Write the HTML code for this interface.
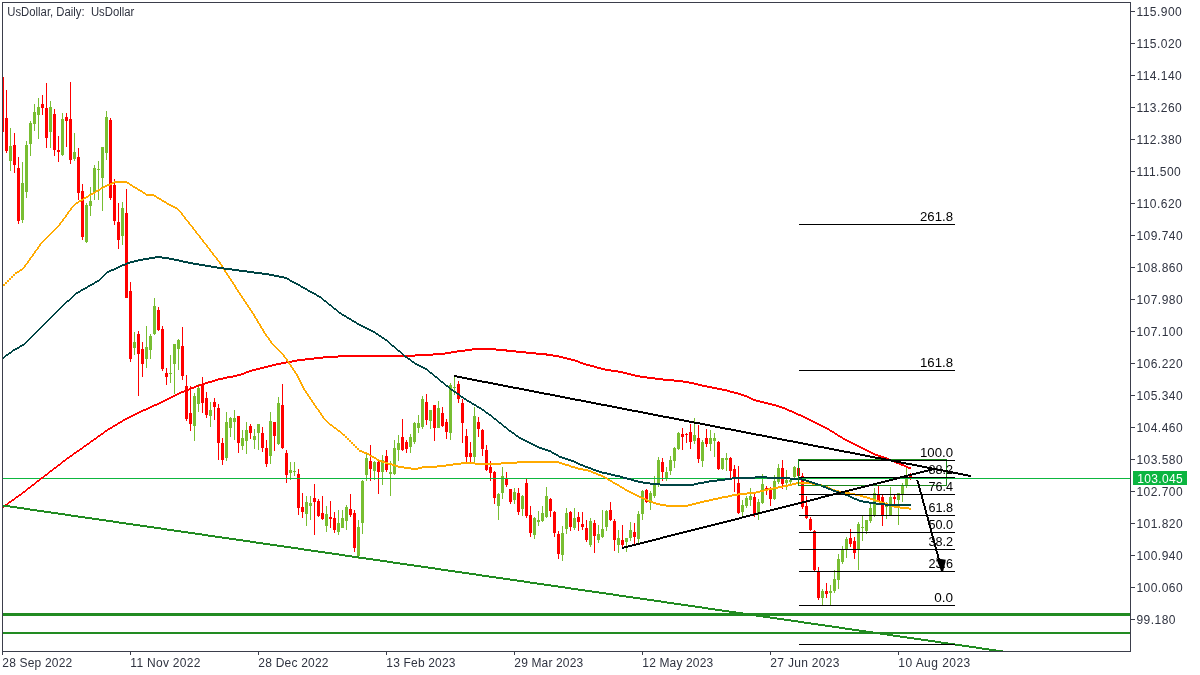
<!DOCTYPE html>
<html lang="en"><head><meta charset="utf-8"><title>UsDollar, Daily</title>
<style>html,body{margin:0;padding:0;background:#fff;}body{width:1200px;height:675px;overflow:hidden;}svg{display:block;will-change:transform;}text{font-family:"Liberation Sans",sans-serif;}</style>
</head><body>
<svg width="1200" height="675" viewBox="0 0 1200 675">
<rect x="0" y="0" width="1200" height="675" fill="#ffffff"/>
<defs><clipPath id="plot"><rect x="3" y="3" width="1127" height="648"/></clipPath></defs>
<g clip-path="url(#plot)" shape-rendering="crispEdges">
<rect x="2" y="77" width="1" height="55" fill="#ff0000"/>
<rect x="1" y="77" width="3" height="55" fill="#ff0000"/>
<rect x="6" y="90" width="1" height="63" fill="#ff0000"/>
<rect x="5" y="118" width="3" height="33" fill="#ff0000"/>
<rect x="10" y="128" width="1" height="43" fill="#78be32"/>
<rect x="9" y="146" width="3" height="15" fill="#78be32"/>
<rect x="14" y="133" width="1" height="40" fill="#ff0000"/>
<rect x="13" y="145" width="3" height="20" fill="#ff0000"/>
<rect x="18" y="157" width="1" height="67" fill="#ff0000"/>
<rect x="17" y="168" width="3" height="53" fill="#ff0000"/>
<rect x="22" y="162" width="1" height="61" fill="#78be32"/>
<rect x="21" y="183" width="3" height="37" fill="#78be32"/>
<rect x="26" y="141" width="1" height="57" fill="#78be32"/>
<rect x="25" y="145" width="3" height="47" fill="#78be32"/>
<rect x="30" y="121" width="1" height="35" fill="#78be32"/>
<rect x="29" y="123" width="3" height="21" fill="#78be32"/>
<rect x="34" y="104" width="1" height="27" fill="#78be32"/>
<rect x="33" y="112" width="3" height="12" fill="#78be32"/>
<rect x="38" y="98" width="1" height="41" fill="#78be32"/>
<rect x="37" y="107" width="3" height="8" fill="#78be32"/>
<rect x="42" y="95" width="1" height="20" fill="#ff0000"/>
<rect x="41" y="104" width="3" height="4" fill="#ff0000"/>
<rect x="46" y="83" width="1" height="65" fill="#ff0000"/>
<rect x="45" y="108" width="3" height="30" fill="#ff0000"/>
<rect x="50" y="101" width="1" height="47" fill="#78be32"/>
<rect x="49" y="107" width="3" height="25" fill="#78be32"/>
<rect x="54" y="109" width="1" height="47" fill="#ff0000"/>
<rect x="53" y="114" width="3" height="36" fill="#ff0000"/>
<rect x="58" y="136" width="1" height="26" fill="#ff0000"/>
<rect x="57" y="150" width="3" height="2" fill="#ff0000"/>
<rect x="62" y="113" width="1" height="43" fill="#78be32"/>
<rect x="61" y="119" width="3" height="36" fill="#78be32"/>
<rect x="66" y="113" width="1" height="34" fill="#ff0000"/>
<rect x="65" y="117" width="3" height="4" fill="#ff0000"/>
<rect x="70" y="82" width="1" height="82" fill="#ff0000"/>
<rect x="69" y="119" width="3" height="41" fill="#ff0000"/>
<rect x="74" y="133" width="1" height="28" fill="#78be32"/>
<rect x="73" y="152" width="3" height="7" fill="#78be32"/>
<rect x="78" y="148" width="1" height="52" fill="#ff0000"/>
<rect x="77" y="157" width="3" height="36" fill="#ff0000"/>
<rect x="82" y="184" width="1" height="56" fill="#ff0000"/>
<rect x="81" y="191" width="3" height="46" fill="#ff0000"/>
<rect x="86" y="203" width="1" height="40" fill="#78be32"/>
<rect x="85" y="205" width="3" height="37" fill="#78be32"/>
<rect x="90" y="187" width="1" height="29" fill="#78be32"/>
<rect x="89" y="201" width="3" height="5" fill="#78be32"/>
<rect x="94" y="165" width="1" height="35" fill="#78be32"/>
<rect x="93" y="168" width="3" height="24" fill="#78be32"/>
<rect x="98" y="161" width="1" height="39" fill="#78be32"/>
<rect x="97" y="169" width="3" height="1" fill="#78be32"/>
<rect x="102" y="147" width="1" height="64" fill="#78be32"/>
<rect x="101" y="147" width="3" height="31" fill="#78be32"/>
<rect x="106" y="111" width="1" height="49" fill="#78be32"/>
<rect x="105" y="117" width="3" height="36" fill="#78be32"/>
<rect x="110" y="118" width="1" height="82" fill="#ff0000"/>
<rect x="109" y="120" width="3" height="78" fill="#ff0000"/>
<rect x="114" y="179" width="1" height="46" fill="#ff0000"/>
<rect x="113" y="185" width="3" height="36" fill="#ff0000"/>
<rect x="118" y="203" width="1" height="46" fill="#ff0000"/>
<rect x="117" y="222" width="3" height="18" fill="#ff0000"/>
<rect x="122" y="202" width="1" height="43" fill="#78be32"/>
<rect x="121" y="208" width="3" height="28" fill="#78be32"/>
<rect x="126" y="189" width="1" height="109" fill="#ff0000"/>
<rect x="125" y="213" width="3" height="85" fill="#ff0000"/>
<rect x="130" y="282" width="1" height="80" fill="#ff0000"/>
<rect x="129" y="291" width="3" height="68" fill="#ff0000"/>
<rect x="134" y="332" width="1" height="23" fill="#78be32"/>
<rect x="133" y="342" width="3" height="6" fill="#78be32"/>
<rect x="138" y="331" width="1" height="65" fill="#ff0000"/>
<rect x="137" y="334" width="3" height="20" fill="#ff0000"/>
<rect x="142" y="342" width="1" height="35" fill="#ff0000"/>
<rect x="141" y="349" width="3" height="15" fill="#ff0000"/>
<rect x="146" y="326" width="1" height="42" fill="#78be32"/>
<rect x="145" y="347" width="3" height="12" fill="#78be32"/>
<rect x="150" y="334" width="1" height="25" fill="#78be32"/>
<rect x="149" y="336" width="3" height="14" fill="#78be32"/>
<rect x="154" y="298" width="1" height="37" fill="#78be32"/>
<rect x="153" y="306" width="3" height="28" fill="#78be32"/>
<rect x="158" y="307" width="1" height="24" fill="#ff0000"/>
<rect x="157" y="310" width="3" height="20" fill="#ff0000"/>
<rect x="162" y="326" width="1" height="45" fill="#ff0000"/>
<rect x="161" y="329" width="3" height="40" fill="#ff0000"/>
<rect x="166" y="368" width="1" height="17" fill="#ff0000"/>
<rect x="165" y="373" width="3" height="4" fill="#ff0000"/>
<rect x="170" y="355" width="1" height="28" fill="#78be32"/>
<rect x="169" y="373" width="3" height="1" fill="#78be32"/>
<rect x="174" y="344" width="1" height="50" fill="#78be32"/>
<rect x="173" y="344" width="3" height="20" fill="#78be32"/>
<rect x="178" y="339" width="1" height="31" fill="#78be32"/>
<rect x="177" y="340" width="3" height="9" fill="#78be32"/>
<rect x="182" y="327" width="1" height="53" fill="#ff0000"/>
<rect x="181" y="346" width="3" height="30" fill="#ff0000"/>
<rect x="186" y="375" width="1" height="46" fill="#ff0000"/>
<rect x="185" y="386" width="3" height="33" fill="#ff0000"/>
<rect x="190" y="386" width="1" height="45" fill="#ff0000"/>
<rect x="189" y="413" width="3" height="11" fill="#ff0000"/>
<rect x="194" y="393" width="1" height="48" fill="#78be32"/>
<rect x="193" y="396" width="3" height="30" fill="#78be32"/>
<rect x="198" y="384" width="1" height="28" fill="#78be32"/>
<rect x="197" y="388" width="3" height="16" fill="#78be32"/>
<rect x="202" y="377" width="1" height="36" fill="#ff0000"/>
<rect x="201" y="384" width="3" height="19" fill="#ff0000"/>
<rect x="206" y="392" width="1" height="26" fill="#ff0000"/>
<rect x="205" y="398" width="3" height="17" fill="#ff0000"/>
<rect x="210" y="402" width="1" height="25" fill="#78be32"/>
<rect x="209" y="410" width="3" height="6" fill="#78be32"/>
<rect x="214" y="398" width="1" height="22" fill="#ff0000"/>
<rect x="213" y="402" width="3" height="5" fill="#ff0000"/>
<rect x="218" y="404" width="1" height="56" fill="#ff0000"/>
<rect x="217" y="408" width="3" height="35" fill="#ff0000"/>
<rect x="222" y="438" width="1" height="27" fill="#ff0000"/>
<rect x="221" y="443" width="3" height="17" fill="#ff0000"/>
<rect x="226" y="412" width="1" height="49" fill="#78be32"/>
<rect x="225" y="422" width="3" height="36" fill="#78be32"/>
<rect x="230" y="417" width="1" height="20" fill="#78be32"/>
<rect x="229" y="418" width="3" height="10" fill="#78be32"/>
<rect x="234" y="410" width="1" height="30" fill="#78be32"/>
<rect x="233" y="418" width="3" height="4" fill="#78be32"/>
<rect x="238" y="416" width="1" height="37" fill="#ff0000"/>
<rect x="237" y="416" width="3" height="27" fill="#ff0000"/>
<rect x="242" y="430" width="1" height="20" fill="#78be32"/>
<rect x="241" y="438" width="3" height="8" fill="#78be32"/>
<rect x="246" y="422" width="1" height="32" fill="#78be32"/>
<rect x="245" y="430" width="3" height="11" fill="#78be32"/>
<rect x="250" y="424" width="1" height="15" fill="#ff0000"/>
<rect x="249" y="426" width="3" height="7" fill="#ff0000"/>
<rect x="254" y="429" width="1" height="20" fill="#78be32"/>
<rect x="253" y="436" width="3" height="4" fill="#78be32"/>
<rect x="258" y="424" width="1" height="26" fill="#78be32"/>
<rect x="257" y="424" width="3" height="9" fill="#78be32"/>
<rect x="262" y="427" width="1" height="25" fill="#ff0000"/>
<rect x="261" y="433" width="3" height="15" fill="#ff0000"/>
<rect x="266" y="440" width="1" height="27" fill="#ff0000"/>
<rect x="265" y="448" width="3" height="16" fill="#ff0000"/>
<rect x="270" y="412" width="1" height="52" fill="#78be32"/>
<rect x="269" y="421" width="3" height="35" fill="#78be32"/>
<rect x="274" y="422" width="1" height="29" fill="#ff0000"/>
<rect x="273" y="422" width="3" height="14" fill="#ff0000"/>
<rect x="278" y="397" width="1" height="48" fill="#78be32"/>
<rect x="277" y="403" width="3" height="41" fill="#78be32"/>
<rect x="282" y="384" width="1" height="65" fill="#ff0000"/>
<rect x="281" y="405" width="3" height="43" fill="#ff0000"/>
<rect x="286" y="450" width="1" height="33" fill="#ff0000"/>
<rect x="285" y="453" width="3" height="22" fill="#ff0000"/>
<rect x="290" y="462" width="1" height="18" fill="#78be32"/>
<rect x="289" y="470" width="3" height="3" fill="#78be32"/>
<rect x="294" y="462" width="1" height="14" fill="#78be32"/>
<rect x="293" y="471" width="3" height="1" fill="#78be32"/>
<rect x="298" y="469" width="1" height="46" fill="#ff0000"/>
<rect x="297" y="474" width="3" height="34" fill="#ff0000"/>
<rect x="302" y="493" width="1" height="25" fill="#ff0000"/>
<rect x="301" y="507" width="3" height="5" fill="#ff0000"/>
<rect x="306" y="496" width="1" height="30" fill="#78be32"/>
<rect x="305" y="502" width="3" height="12" fill="#78be32"/>
<rect x="310" y="496" width="1" height="24" fill="#78be32"/>
<rect x="309" y="503" width="3" height="3" fill="#78be32"/>
<rect x="314" y="484" width="1" height="51" fill="#ff0000"/>
<rect x="313" y="498" width="3" height="4" fill="#ff0000"/>
<rect x="318" y="499" width="1" height="18" fill="#ff0000"/>
<rect x="317" y="501" width="3" height="15" fill="#ff0000"/>
<rect x="322" y="496" width="1" height="24" fill="#ff0000"/>
<rect x="321" y="513" width="3" height="6" fill="#ff0000"/>
<rect x="326" y="506" width="1" height="26" fill="#78be32"/>
<rect x="325" y="514" width="3" height="12" fill="#78be32"/>
<rect x="330" y="501" width="1" height="27" fill="#ff0000"/>
<rect x="329" y="517" width="3" height="2" fill="#ff0000"/>
<rect x="334" y="512" width="1" height="21" fill="#ff0000"/>
<rect x="333" y="518" width="3" height="12" fill="#ff0000"/>
<rect x="338" y="510" width="1" height="25" fill="#78be32"/>
<rect x="337" y="523" width="3" height="9" fill="#78be32"/>
<rect x="342" y="510" width="1" height="18" fill="#78be32"/>
<rect x="341" y="518" width="3" height="10" fill="#78be32"/>
<rect x="346" y="505" width="1" height="25" fill="#78be32"/>
<rect x="345" y="507" width="3" height="14" fill="#78be32"/>
<rect x="350" y="494" width="1" height="23" fill="#ff0000"/>
<rect x="349" y="509" width="3" height="6" fill="#ff0000"/>
<rect x="354" y="510" width="1" height="42" fill="#ff0000"/>
<rect x="353" y="513" width="3" height="35" fill="#ff0000"/>
<rect x="358" y="520" width="1" height="39" fill="#78be32"/>
<rect x="357" y="527" width="3" height="29" fill="#78be32"/>
<rect x="362" y="480" width="1" height="54" fill="#78be32"/>
<rect x="361" y="481" width="3" height="42" fill="#78be32"/>
<rect x="366" y="454" width="1" height="27" fill="#78be32"/>
<rect x="365" y="458" width="3" height="17" fill="#78be32"/>
<rect x="370" y="445" width="1" height="36" fill="#ff0000"/>
<rect x="369" y="461" width="3" height="8" fill="#ff0000"/>
<rect x="374" y="461" width="1" height="19" fill="#78be32"/>
<rect x="373" y="462" width="3" height="9" fill="#78be32"/>
<rect x="378" y="461" width="1" height="33" fill="#ff0000"/>
<rect x="377" y="462" width="3" height="10" fill="#ff0000"/>
<rect x="382" y="455" width="1" height="30" fill="#78be32"/>
<rect x="381" y="460" width="3" height="12" fill="#78be32"/>
<rect x="386" y="450" width="1" height="22" fill="#ff0000"/>
<rect x="385" y="456" width="3" height="14" fill="#ff0000"/>
<rect x="390" y="461" width="1" height="35" fill="#78be32"/>
<rect x="389" y="472" width="3" height="2" fill="#78be32"/>
<rect x="394" y="440" width="1" height="35" fill="#78be32"/>
<rect x="393" y="448" width="3" height="26" fill="#78be32"/>
<rect x="398" y="435" width="1" height="26" fill="#78be32"/>
<rect x="397" y="443" width="3" height="7" fill="#78be32"/>
<rect x="402" y="419" width="1" height="32" fill="#ff0000"/>
<rect x="401" y="437" width="3" height="13" fill="#ff0000"/>
<rect x="406" y="440" width="1" height="13" fill="#ff0000"/>
<rect x="405" y="442" width="3" height="7" fill="#ff0000"/>
<rect x="410" y="434" width="1" height="19" fill="#78be32"/>
<rect x="409" y="437" width="3" height="10" fill="#78be32"/>
<rect x="414" y="422" width="1" height="22" fill="#78be32"/>
<rect x="413" y="423" width="3" height="19" fill="#78be32"/>
<rect x="418" y="415" width="1" height="18" fill="#78be32"/>
<rect x="417" y="423" width="3" height="5" fill="#78be32"/>
<rect x="422" y="396" width="1" height="33" fill="#78be32"/>
<rect x="421" y="399" width="3" height="28" fill="#78be32"/>
<rect x="426" y="394" width="1" height="31" fill="#ff0000"/>
<rect x="425" y="402" width="3" height="18" fill="#ff0000"/>
<rect x="430" y="410" width="1" height="19" fill="#78be32"/>
<rect x="429" y="410" width="3" height="11" fill="#78be32"/>
<rect x="434" y="405" width="1" height="36" fill="#ff0000"/>
<rect x="433" y="405" width="3" height="23" fill="#ff0000"/>
<rect x="438" y="401" width="1" height="27" fill="#78be32"/>
<rect x="437" y="408" width="3" height="20" fill="#78be32"/>
<rect x="442" y="407" width="1" height="20" fill="#ff0000"/>
<rect x="441" y="413" width="3" height="13" fill="#ff0000"/>
<rect x="446" y="419" width="1" height="20" fill="#ff0000"/>
<rect x="445" y="422" width="3" height="10" fill="#ff0000"/>
<rect x="450" y="383" width="1" height="57" fill="#78be32"/>
<rect x="449" y="385" width="3" height="48" fill="#78be32"/>
<rect x="454" y="376" width="1" height="19" fill="#78be32"/>
<rect x="453" y="387" width="3" height="1" fill="#78be32"/>
<rect x="458" y="381" width="1" height="22" fill="#ff0000"/>
<rect x="457" y="384" width="3" height="15" fill="#ff0000"/>
<rect x="462" y="399" width="1" height="44" fill="#ff0000"/>
<rect x="461" y="403" width="3" height="20" fill="#ff0000"/>
<rect x="466" y="429" width="1" height="33" fill="#ff0000"/>
<rect x="465" y="436" width="3" height="21" fill="#ff0000"/>
<rect x="470" y="442" width="1" height="21" fill="#ff0000"/>
<rect x="469" y="453" width="3" height="4" fill="#ff0000"/>
<rect x="474" y="407" width="1" height="56" fill="#78be32"/>
<rect x="473" y="416" width="3" height="41" fill="#78be32"/>
<rect x="478" y="417" width="1" height="20" fill="#ff0000"/>
<rect x="477" y="422" width="3" height="7" fill="#ff0000"/>
<rect x="482" y="429" width="1" height="27" fill="#ff0000"/>
<rect x="481" y="430" width="3" height="19" fill="#ff0000"/>
<rect x="486" y="445" width="1" height="26" fill="#ff0000"/>
<rect x="485" y="450" width="3" height="20" fill="#ff0000"/>
<rect x="490" y="461" width="1" height="20" fill="#ff0000"/>
<rect x="489" y="467" width="3" height="6" fill="#ff0000"/>
<rect x="494" y="471" width="1" height="33" fill="#ff0000"/>
<rect x="493" y="472" width="3" height="26" fill="#ff0000"/>
<rect x="498" y="493" width="1" height="27" fill="#78be32"/>
<rect x="497" y="494" width="3" height="12" fill="#78be32"/>
<rect x="502" y="467" width="1" height="32" fill="#78be32"/>
<rect x="501" y="476" width="3" height="17" fill="#78be32"/>
<rect x="506" y="472" width="1" height="15" fill="#ff0000"/>
<rect x="505" y="478" width="3" height="7" fill="#ff0000"/>
<rect x="510" y="489" width="1" height="15" fill="#ff0000"/>
<rect x="509" y="489" width="3" height="13" fill="#ff0000"/>
<rect x="514" y="488" width="1" height="16" fill="#78be32"/>
<rect x="513" y="492" width="3" height="8" fill="#78be32"/>
<rect x="518" y="488" width="1" height="27" fill="#ff0000"/>
<rect x="517" y="493" width="3" height="19" fill="#ff0000"/>
<rect x="522" y="495" width="1" height="21" fill="#78be32"/>
<rect x="521" y="496" width="3" height="13" fill="#78be32"/>
<rect x="526" y="478" width="1" height="40" fill="#ff0000"/>
<rect x="525" y="483" width="3" height="33" fill="#ff0000"/>
<rect x="530" y="506" width="1" height="31" fill="#ff0000"/>
<rect x="529" y="515" width="3" height="18" fill="#ff0000"/>
<rect x="534" y="517" width="1" height="22" fill="#78be32"/>
<rect x="533" y="518" width="3" height="17" fill="#78be32"/>
<rect x="538" y="511" width="1" height="15" fill="#78be32"/>
<rect x="537" y="520" width="3" height="2" fill="#78be32"/>
<rect x="542" y="506" width="1" height="16" fill="#78be32"/>
<rect x="541" y="513" width="3" height="8" fill="#78be32"/>
<rect x="546" y="487" width="1" height="31" fill="#78be32"/>
<rect x="545" y="496" width="3" height="21" fill="#78be32"/>
<rect x="550" y="498" width="1" height="19" fill="#ff0000"/>
<rect x="549" y="499" width="3" height="12" fill="#ff0000"/>
<rect x="554" y="511" width="1" height="26" fill="#ff0000"/>
<rect x="553" y="512" width="3" height="21" fill="#ff0000"/>
<rect x="558" y="531" width="1" height="28" fill="#ff0000"/>
<rect x="557" y="534" width="3" height="20" fill="#ff0000"/>
<rect x="562" y="526" width="1" height="35" fill="#78be32"/>
<rect x="561" y="533" width="3" height="22" fill="#78be32"/>
<rect x="566" y="508" width="1" height="26" fill="#78be32"/>
<rect x="565" y="513" width="3" height="16" fill="#78be32"/>
<rect x="570" y="511" width="1" height="20" fill="#ff0000"/>
<rect x="569" y="512" width="3" height="15" fill="#ff0000"/>
<rect x="574" y="508" width="1" height="22" fill="#78be32"/>
<rect x="573" y="518" width="3" height="10" fill="#78be32"/>
<rect x="578" y="512" width="1" height="19" fill="#ff0000"/>
<rect x="577" y="517" width="3" height="5" fill="#ff0000"/>
<rect x="582" y="512" width="1" height="18" fill="#ff0000"/>
<rect x="581" y="524" width="3" height="3" fill="#ff0000"/>
<rect x="586" y="520" width="1" height="22" fill="#ff0000"/>
<rect x="585" y="528" width="3" height="12" fill="#ff0000"/>
<rect x="590" y="518" width="1" height="29" fill="#78be32"/>
<rect x="589" y="521" width="3" height="24" fill="#78be32"/>
<rect x="594" y="520" width="1" height="33" fill="#ff0000"/>
<rect x="593" y="523" width="3" height="13" fill="#ff0000"/>
<rect x="598" y="525" width="1" height="18" fill="#78be32"/>
<rect x="597" y="534" width="3" height="6" fill="#78be32"/>
<rect x="602" y="510" width="1" height="28" fill="#78be32"/>
<rect x="601" y="529" width="3" height="8" fill="#78be32"/>
<rect x="606" y="510" width="1" height="21" fill="#78be32"/>
<rect x="605" y="511" width="3" height="16" fill="#78be32"/>
<rect x="610" y="502" width="1" height="19" fill="#ff0000"/>
<rect x="609" y="510" width="3" height="10" fill="#ff0000"/>
<rect x="614" y="519" width="1" height="32" fill="#ff0000"/>
<rect x="613" y="521" width="3" height="19" fill="#ff0000"/>
<rect x="618" y="530" width="1" height="23" fill="#78be32"/>
<rect x="617" y="538" width="3" height="7" fill="#78be32"/>
<rect x="622" y="525" width="1" height="22" fill="#ff0000"/>
<rect x="621" y="540" width="3" height="5" fill="#ff0000"/>
<rect x="626" y="538" width="1" height="14" fill="#78be32"/>
<rect x="625" y="538" width="3" height="4" fill="#78be32"/>
<rect x="630" y="522" width="1" height="19" fill="#78be32"/>
<rect x="629" y="530" width="3" height="8" fill="#78be32"/>
<rect x="634" y="523" width="1" height="21" fill="#ff0000"/>
<rect x="633" y="532" width="3" height="5" fill="#ff0000"/>
<rect x="638" y="511" width="1" height="32" fill="#78be32"/>
<rect x="637" y="514" width="3" height="25" fill="#78be32"/>
<rect x="642" y="490" width="1" height="30" fill="#78be32"/>
<rect x="641" y="491" width="3" height="23" fill="#78be32"/>
<rect x="646" y="489" width="1" height="14" fill="#ff0000"/>
<rect x="645" y="490" width="3" height="12" fill="#ff0000"/>
<rect x="650" y="491" width="1" height="19" fill="#78be32"/>
<rect x="649" y="493" width="3" height="10" fill="#78be32"/>
<rect x="654" y="476" width="1" height="22" fill="#78be32"/>
<rect x="653" y="483" width="3" height="13" fill="#78be32"/>
<rect x="658" y="457" width="1" height="30" fill="#78be32"/>
<rect x="657" y="460" width="3" height="23" fill="#78be32"/>
<rect x="662" y="458" width="1" height="23" fill="#ff0000"/>
<rect x="661" y="462" width="3" height="10" fill="#ff0000"/>
<rect x="666" y="467" width="1" height="14" fill="#78be32"/>
<rect x="665" y="472" width="3" height="6" fill="#78be32"/>
<rect x="670" y="456" width="1" height="19" fill="#78be32"/>
<rect x="669" y="460" width="3" height="11" fill="#78be32"/>
<rect x="674" y="447" width="1" height="21" fill="#78be32"/>
<rect x="673" y="448" width="3" height="13" fill="#78be32"/>
<rect x="678" y="432" width="1" height="18" fill="#78be32"/>
<rect x="677" y="433" width="3" height="16" fill="#78be32"/>
<rect x="682" y="428" width="1" height="22" fill="#ff0000"/>
<rect x="681" y="434" width="3" height="3" fill="#ff0000"/>
<rect x="686" y="433" width="1" height="10" fill="#ff0000"/>
<rect x="685" y="434" width="3" height="1" fill="#ff0000"/>
<rect x="690" y="424" width="1" height="25" fill="#ff0000"/>
<rect x="689" y="432" width="3" height="10" fill="#ff0000"/>
<rect x="694" y="418" width="1" height="26" fill="#78be32"/>
<rect x="693" y="435" width="3" height="6" fill="#78be32"/>
<rect x="698" y="425" width="1" height="38" fill="#ff0000"/>
<rect x="697" y="438" width="3" height="21" fill="#ff0000"/>
<rect x="702" y="440" width="1" height="27" fill="#78be32"/>
<rect x="701" y="442" width="3" height="19" fill="#78be32"/>
<rect x="706" y="429" width="1" height="18" fill="#ff0000"/>
<rect x="705" y="438" width="3" height="6" fill="#ff0000"/>
<rect x="710" y="430" width="1" height="21" fill="#78be32"/>
<rect x="709" y="438" width="3" height="6" fill="#78be32"/>
<rect x="714" y="433" width="1" height="24" fill="#78be32"/>
<rect x="713" y="438" width="3" height="3" fill="#78be32"/>
<rect x="718" y="441" width="1" height="29" fill="#ff0000"/>
<rect x="717" y="442" width="3" height="27" fill="#ff0000"/>
<rect x="722" y="458" width="1" height="12" fill="#78be32"/>
<rect x="721" y="458" width="3" height="11" fill="#78be32"/>
<rect x="726" y="453" width="1" height="18" fill="#78be32"/>
<rect x="725" y="458" width="3" height="2" fill="#78be32"/>
<rect x="730" y="457" width="1" height="21" fill="#ff0000"/>
<rect x="729" y="458" width="3" height="13" fill="#ff0000"/>
<rect x="734" y="465" width="1" height="27" fill="#ff0000"/>
<rect x="733" y="469" width="3" height="9" fill="#ff0000"/>
<rect x="738" y="466" width="1" height="48" fill="#ff0000"/>
<rect x="737" y="483" width="3" height="30" fill="#ff0000"/>
<rect x="742" y="500" width="1" height="17" fill="#78be32"/>
<rect x="741" y="505" width="3" height="7" fill="#78be32"/>
<rect x="746" y="496" width="1" height="12" fill="#78be32"/>
<rect x="745" y="498" width="3" height="8" fill="#78be32"/>
<rect x="750" y="488" width="1" height="18" fill="#78be32"/>
<rect x="749" y="496" width="3" height="4" fill="#78be32"/>
<rect x="754" y="494" width="1" height="23" fill="#ff0000"/>
<rect x="753" y="497" width="3" height="17" fill="#ff0000"/>
<rect x="758" y="499" width="1" height="21" fill="#78be32"/>
<rect x="757" y="502" width="3" height="11" fill="#78be32"/>
<rect x="762" y="474" width="1" height="30" fill="#78be32"/>
<rect x="761" y="484" width="3" height="19" fill="#78be32"/>
<rect x="766" y="486" width="1" height="9" fill="#ff0000"/>
<rect x="765" y="488" width="3" height="2" fill="#ff0000"/>
<rect x="770" y="487" width="1" height="19" fill="#ff0000"/>
<rect x="769" y="490" width="3" height="9" fill="#ff0000"/>
<rect x="774" y="475" width="1" height="25" fill="#78be32"/>
<rect x="773" y="481" width="3" height="18" fill="#78be32"/>
<rect x="778" y="464" width="1" height="20" fill="#78be32"/>
<rect x="777" y="468" width="3" height="14" fill="#78be32"/>
<rect x="782" y="460" width="1" height="29" fill="#ff0000"/>
<rect x="781" y="468" width="3" height="16" fill="#ff0000"/>
<rect x="786" y="470" width="1" height="20" fill="#78be32"/>
<rect x="785" y="480" width="3" height="3" fill="#78be32"/>
<rect x="790" y="478" width="1" height="6" fill="#78be32"/>
<rect x="789" y="480" width="3" height="2" fill="#78be32"/>
<rect x="794" y="466" width="1" height="12" fill="#78be32"/>
<rect x="793" y="467" width="3" height="10" fill="#78be32"/>
<rect x="798" y="467" width="1" height="11" fill="#ff0000"/>
<rect x="797" y="468" width="3" height="8" fill="#ff0000"/>
<rect x="802" y="473" width="1" height="36" fill="#ff0000"/>
<rect x="801" y="476" width="3" height="31" fill="#ff0000"/>
<rect x="806" y="496" width="1" height="23" fill="#ff0000"/>
<rect x="805" y="506" width="3" height="12" fill="#ff0000"/>
<rect x="810" y="517" width="1" height="14" fill="#ff0000"/>
<rect x="809" y="519" width="3" height="11" fill="#ff0000"/>
<rect x="814" y="530" width="1" height="41" fill="#ff0000"/>
<rect x="813" y="531" width="3" height="39" fill="#ff0000"/>
<rect x="818" y="567" width="1" height="33" fill="#ff0000"/>
<rect x="817" y="571" width="3" height="27" fill="#ff0000"/>
<rect x="822" y="589" width="1" height="16" fill="#78be32"/>
<rect x="821" y="591" width="3" height="7" fill="#78be32"/>
<rect x="826" y="583" width="1" height="15" fill="#ff0000"/>
<rect x="825" y="591" width="3" height="3" fill="#ff0000"/>
<rect x="830" y="585" width="1" height="20" fill="#78be32"/>
<rect x="829" y="591" width="3" height="2" fill="#78be32"/>
<rect x="834" y="570" width="1" height="23" fill="#78be32"/>
<rect x="833" y="579" width="3" height="12" fill="#78be32"/>
<rect x="838" y="554" width="1" height="35" fill="#78be32"/>
<rect x="837" y="559" width="3" height="21" fill="#78be32"/>
<rect x="842" y="546" width="1" height="18" fill="#78be32"/>
<rect x="841" y="549" width="3" height="13" fill="#78be32"/>
<rect x="846" y="537" width="1" height="21" fill="#78be32"/>
<rect x="845" y="539" width="3" height="10" fill="#78be32"/>
<rect x="850" y="529" width="1" height="18" fill="#ff0000"/>
<rect x="849" y="538" width="3" height="6" fill="#ff0000"/>
<rect x="854" y="537" width="1" height="22" fill="#ff0000"/>
<rect x="853" y="541" width="3" height="12" fill="#ff0000"/>
<rect x="858" y="522" width="1" height="48" fill="#78be32"/>
<rect x="857" y="524" width="3" height="25" fill="#78be32"/>
<rect x="862" y="516" width="1" height="25" fill="#78be32"/>
<rect x="861" y="527" width="3" height="1" fill="#78be32"/>
<rect x="866" y="520" width="1" height="14" fill="#78be32"/>
<rect x="865" y="520" width="3" height="11" fill="#78be32"/>
<rect x="870" y="502" width="1" height="21" fill="#78be32"/>
<rect x="869" y="508" width="3" height="13" fill="#78be32"/>
<rect x="874" y="488" width="1" height="29" fill="#78be32"/>
<rect x="873" y="493" width="3" height="23" fill="#78be32"/>
<rect x="878" y="486" width="1" height="15" fill="#ff0000"/>
<rect x="877" y="494" width="3" height="7" fill="#ff0000"/>
<rect x="882" y="495" width="1" height="31" fill="#ff0000"/>
<rect x="881" y="497" width="3" height="18" fill="#ff0000"/>
<rect x="886" y="502" width="1" height="17" fill="#78be32"/>
<rect x="885" y="504" width="3" height="3" fill="#78be32"/>
<rect x="890" y="487" width="1" height="28" fill="#78be32"/>
<rect x="889" y="497" width="3" height="18" fill="#78be32"/>
<rect x="894" y="494" width="1" height="11" fill="#ff0000"/>
<rect x="893" y="497" width="3" height="2" fill="#ff0000"/>
<rect x="898" y="493" width="1" height="32" fill="#78be32"/>
<rect x="897" y="493" width="3" height="7" fill="#78be32"/>
<rect x="902" y="483" width="1" height="19" fill="#78be32"/>
<rect x="901" y="485" width="3" height="9" fill="#78be32"/>
<rect x="906" y="468" width="1" height="20" fill="#78be32"/>
<rect x="905" y="476" width="3" height="9" fill="#78be32"/>
<rect x="910" y="473" width="1" height="7" fill="#ff0000"/>
<rect x="909" y="476" width="3" height="2" fill="#ff0000"/>
</g>
<rect x="3" y="478" width="1127" height="1" fill="#0db73f" shape-rendering="crispEdges"/>
<g clip-path="url(#plot)" shape-rendering="crispEdges">
<path d="M472 348h24v1h-24zM465 349h42v1h-42zM457 350h15v1h-15zM496 350h20v1h-20zM451 351h14v1h-14zM506 351h20v1h-20zM445 352h12v1h-12zM516 352h20v1h-20zM433 353h18v1h-18zM526 353h21v1h-21zM415 354h30v1h-30zM536 354h17v1h-17zM338 355h95v1h-95zM546 355h13v1h-13zM323 356h92v1h-92zM553 356h10v1h-10zM314 357h24v1h-24zM559 357h8v1h-8zM305 358h18v1h-18zM563 358h8v1h-8zM297 359h17v1h-17zM567 359h8v1h-8zM292 360h13v1h-13zM571 360h7v1h-7zM286 361h11v1h-11zM575 361h5v1h-5zM281 362h11v1h-11zM578 362h5v1h-5zM276 363h10v1h-10zM580 363h6v1h-6zM272 364h9v1h-9zM583 364h7v1h-7zM268 365h8v1h-8zM586 365h8v1h-8zM264 366h8v1h-8zM590 366h7v1h-7zM260 367h8v1h-8zM594 367h7v1h-7zM256 368h8v1h-8zM597 368h8v1h-8zM252 369h8v1h-8zM601 369h10v1h-10zM249 370h7v1h-7zM605 370h13v1h-13zM246 371h6v1h-6zM611 371h12v1h-12zM244 372h5v1h-5zM618 372h9v1h-9zM241 373h5v1h-5zM623 373h8v1h-8zM237 374h7v1h-7zM627 374h8v1h-8zM233 375h8v1h-8zM631 375h9v1h-9zM227 376h10v1h-10zM635 376h12v1h-12zM223 377h10v1h-10zM640 377h15v1h-15zM218 378h9v1h-9zM647 378h16v1h-16zM215 379h8v1h-8zM655 379h19v1h-19zM212 380h6v1h-6zM663 380h20v1h-20zM208 381h7v1h-7zM674 381h15v1h-15zM205 382h7v1h-7zM683 382h11v1h-11zM202 383h6v1h-6zM689 383h9v1h-9zM199 384h6v1h-6zM694 384h8v1h-8zM196 385h6v1h-6zM698 385h9v1h-9zM194 386h5v1h-5zM702 386h10v1h-10zM191 387h5v1h-5zM707 387h10v1h-10zM189 388h5v1h-5zM712 388h10v1h-10zM186 389h5v1h-5zM717 389h10v1h-10zM184 390h5v1h-5zM722 390h8v1h-8zM181 391h5v1h-5zM727 391h7v1h-7zM179 392h5v1h-5zM730 392h8v1h-8zM177 393h4v1h-4zM734 393h7v1h-7zM175 394h4v1h-4zM738 394h6v1h-6zM173 395h4v1h-4zM741 395h6v1h-6zM171 396h4v1h-4zM744 396h5v1h-5zM169 397h4v1h-4zM747 397h4v1h-4zM167 398h4v1h-4zM749 398h4v1h-4zM165 399h4v1h-4zM751 399h5v1h-5zM163 400h4v1h-4zM753 400h7v1h-7zM161 401h4v1h-4zM756 401h8v1h-8zM159 402h4v1h-4zM760 402h8v1h-8zM157 403h4v1h-4zM764 403h8v1h-8zM154 404h5v1h-5zM768 404h8v1h-8zM152 405h5v1h-5zM772 405h7v1h-7zM150 406h4v1h-4zM776 406h6v1h-6zM148 407h4v1h-4zM779 407h6v1h-6zM146 408h4v1h-4zM782 408h5v1h-5zM143 409h5v1h-5zM785 409h4v1h-4zM141 410h5v1h-5zM787 410h5v1h-5zM139 411h4v1h-4zM789 411h5v1h-5zM137 412h4v1h-4zM792 412h4v1h-4zM135 413h4v1h-4zM794 413h4v1h-4zM133 414h4v1h-4zM796 414h5v1h-5zM131 415h4v1h-4zM798 415h5v1h-5zM129 416h4v1h-4zM801 416h4v1h-4zM127 417h4v1h-4zM803 417h4v1h-4zM125 418h4v1h-4zM805 418h4v1h-4zM123 419h4v1h-4zM807 419h4v1h-4zM122 420h3v1h-3zM809 420h4v1h-4zM120 421h3v1h-3zM811 421h4v1h-4zM118 422h4v1h-4zM813 422h4v1h-4zM117 423h3v1h-3zM815 423h4v1h-4zM115 424h3v1h-3zM817 424h4v1h-4zM113 425h4v1h-4zM819 425h4v1h-4zM112 426h3v1h-3zM821 426h4v1h-4zM110 427h3v1h-3zM823 427h4v1h-4zM108 428h4v1h-4zM825 428h4v1h-4zM107 429h3v1h-3zM827 429h3v1h-3zM105 430h3v1h-3zM829 430h3v1h-3zM104 431h3v1h-3zM830 431h4v1h-4zM103 432h2v1h-2zM832 432h3v1h-3zM101 433h3v1h-3zM834 433h3v1h-3zM100 434h3v1h-3zM835 434h3v1h-3zM98 435h3v1h-3zM837 435h3v1h-3zM97 436h3v1h-3zM838 436h4v1h-4zM96 437h2v1h-2zM840 437h3v1h-3zM94 438h3v1h-3zM842 438h3v1h-3zM93 439h3v1h-3zM843 439h4v1h-4zM91 440h3v1h-3zM845 440h4v1h-4zM90 441h3v1h-3zM847 441h4v1h-4zM89 442h2v1h-2zM849 442h4v1h-4zM87 443h3v1h-3zM851 443h4v1h-4zM86 444h3v1h-3zM853 444h4v1h-4zM84 445h3v1h-3zM855 445h4v1h-4zM83 446h3v1h-3zM857 446h4v1h-4zM82 447h2v1h-2zM859 447h4v1h-4zM80 448h3v1h-3zM861 448h4v1h-4zM79 449h3v1h-3zM863 449h4v1h-4zM77 450h3v1h-3zM865 450h4v1h-4zM76 451h3v1h-3zM867 451h4v1h-4zM74 452h3v1h-3zM869 452h4v1h-4zM73 453h3v1h-3zM871 453h4v1h-4zM72 454h2v1h-2zM873 454h5v1h-5zM70 455h3v1h-3zM875 455h6v1h-6zM69 456h3v1h-3zM878 456h6v1h-6zM67 457h3v1h-3zM881 457h6v1h-6zM66 458h3v1h-3zM884 458h5v1h-5zM65 459h2v1h-2zM887 459h5v1h-5zM63 460h3v1h-3zM889 460h5v1h-5zM62 461h3v1h-3zM892 461h4v1h-4zM61 462h2v1h-2zM894 462h5v1h-5zM60 463h2v1h-2zM896 463h5v1h-5zM58 464h3v1h-3zM899 464h5v1h-5zM57 465h3v1h-3zM901 465h5v1h-5zM56 466h2v1h-2zM904 466h4v1h-4zM54 467h3v1h-3zM906 467h5v1h-5zM53 468h3v1h-3zM908 468h3v1h-3zM52 469h2v1h-2zM50 470h3v1h-3zM49 471h3v1h-3zM48 472h2v1h-2zM47 473h2v1h-2zM45 474h3v1h-3zM44 475h3v1h-3zM43 476h2v1h-2zM41 477h3v1h-3zM40 478h3v1h-3zM39 479h2v1h-2zM37 480h3v1h-3zM36 481h3v1h-3zM35 482h2v1h-2zM34 483h2v1h-2zM32 484h3v1h-3zM31 485h3v1h-3zM30 486h2v1h-2zM28 487h3v1h-3zM27 488h3v1h-3zM26 489h2v1h-2zM25 490h2v1h-2zM23 491h3v1h-3zM22 492h3v1h-3zM21 493h2v1h-2zM19 494h3v1h-3zM18 495h3v1h-3zM16 496h3v1h-3zM15 497h3v1h-3zM14 498h2v1h-2zM12 499h3v1h-3zM11 500h3v1h-3zM9 501h3v1h-3zM8 502h3v1h-3zM7 503h2v1h-2zM5 504h3v1h-3zM4 505h3v1h-3zM3 506h2v1h-2zM3 507h1v1h-1z" fill="#ff0000"/>
<path d="M114 181h13v1h-13zM112 182h17v1h-17zM110 183h4v1h-4zM127 183h3v1h-3zM107 184h5v1h-5zM129 184h3v1h-3zM105 185h5v1h-5zM130 185h3v1h-3zM103 186h4v1h-4zM132 186h3v1h-3zM101 187h4v1h-4zM133 187h4v1h-4zM100 188h3v1h-3zM135 188h3v1h-3zM98 189h3v1h-3zM137 189h3v1h-3zM96 190h4v1h-4zM138 190h4v1h-4zM95 191h3v1h-3zM140 191h3v1h-3zM93 192h3v1h-3zM142 192h3v1h-3zM91 193h4v1h-4zM143 193h3v1h-3zM89 194h4v1h-4zM145 194h9v1h-9zM88 195h3v1h-3zM146 195h10v1h-10zM86 196h3v1h-3zM154 196h3v1h-3zM84 197h4v1h-4zM156 197h3v1h-3zM83 198h3v1h-3zM157 198h4v1h-4zM81 199h3v1h-3zM159 199h3v1h-3zM79 200h4v1h-4zM161 200h3v1h-3zM78 201h3v1h-3zM162 201h4v1h-4zM76 202h3v1h-3zM164 202h3v1h-3zM75 203h3v1h-3zM166 203h3v1h-3zM74 204h2v1h-2zM167 204h4v1h-4zM73 205h2v1h-2zM169 205h4v1h-4zM72 206h2v1h-2zM171 206h4v1h-4zM71 207h2v1h-2zM173 207h4v1h-4zM70 208h2v1h-2zM175 208h3v1h-3zM70 209h2v1h-2zM177 209h2v1h-2zM69 210h2v1h-2zM178 210h2v1h-2zM68 211h2v1h-2zM179 211h2v1h-2zM67 212h2v1h-2zM180 212h2v1h-2zM67 213h2v1h-2zM181 213h2v1h-2zM66 214h2v1h-2zM181 214h2v1h-2zM65 215h2v1h-2zM182 215h2v1h-2zM65 216h2v1h-2zM183 216h2v1h-2zM64 217h2v1h-2zM184 217h2v1h-2zM63 218h2v1h-2zM184 218h2v1h-2zM62 219h2v1h-2zM185 219h2v1h-2zM62 220h2v1h-2zM186 220h2v1h-2zM61 221h2v1h-2zM187 221h2v1h-2zM60 222h2v1h-2zM188 222h2v1h-2zM59 223h2v1h-2zM188 223h2v1h-2zM59 224h2v1h-2zM189 224h2v1h-2zM58 225h2v1h-2zM190 225h2v1h-2zM57 226h2v1h-2zM191 226h2v1h-2zM56 227h2v1h-2zM192 227h2v1h-2zM55 228h2v1h-2zM192 228h2v1h-2zM54 229h2v1h-2zM193 229h2v1h-2zM53 230h2v1h-2zM194 230h2v1h-2zM52 231h2v1h-2zM195 231h2v1h-2zM51 232h2v1h-2zM195 232h2v1h-2zM50 233h2v1h-2zM196 233h2v1h-2zM49 234h2v1h-2zM197 234h2v1h-2zM48 235h2v1h-2zM198 235h2v1h-2zM47 236h2v1h-2zM199 236h2v1h-2zM46 237h2v1h-2zM199 237h2v1h-2zM45 238h2v1h-2zM200 238h2v1h-2zM44 239h2v1h-2zM201 239h2v1h-2zM43 240h2v1h-2zM202 240h2v1h-2zM42 241h2v1h-2zM202 241h2v1h-2zM41 242h2v1h-2zM203 242h2v1h-2zM40 243h2v1h-2zM204 243h2v1h-2zM39 244h2v1h-2zM205 244h2v1h-2zM39 245h2v1h-2zM206 245h2v1h-2zM38 246h2v1h-2zM206 246h2v1h-2zM37 247h2v1h-2zM207 247h2v1h-2zM37 248h2v1h-2zM208 248h2v1h-2zM36 249h2v1h-2zM209 249h2v1h-2zM35 250h2v1h-2zM209 250h2v1h-2zM34 251h2v1h-2zM210 251h2v1h-2zM34 252h2v1h-2zM211 252h2v1h-2zM33 253h2v1h-2zM212 253h2v1h-2zM32 254h2v1h-2zM212 254h2v1h-2zM32 255h2v1h-2zM213 255h2v1h-2zM31 256h2v1h-2zM214 256h2v1h-2zM30 257h2v1h-2zM215 257h2v1h-2zM29 258h2v1h-2zM216 258h2v1h-2zM29 259h2v1h-2zM216 259h2v1h-2zM28 260h2v1h-2zM217 260h2v1h-2zM27 261h2v1h-2zM218 261h2v1h-2zM27 262h2v1h-2zM219 262h2v1h-2zM26 263h2v1h-2zM219 263h2v1h-2zM25 264h2v1h-2zM220 264h2v1h-2zM24 265h2v1h-2zM221 265h2v1h-2zM24 266h2v1h-2zM221 266h2v1h-2zM23 267h2v1h-2zM222 267h2v1h-2zM22 268h2v1h-2zM223 268h2v1h-2zM20 269h3v1h-3zM223 269h2v1h-2zM19 270h3v1h-3zM224 270h2v1h-2zM17 271h3v1h-3zM224 271h2v1h-2zM15 272h4v1h-4zM225 272h2v1h-2zM15 273h2v1h-2zM226 273h2v1h-2zM13 274h2v1h-2zM226 274h2v1h-2zM13 275h2v1h-2zM227 275h2v1h-2zM11 276h2v1h-2zM228 276h2v1h-2zM11 277h2v1h-2zM228 277h2v1h-2zM9 278h2v1h-2zM229 278h2v1h-2zM9 279h2v1h-2zM230 279h2v1h-2zM7 280h2v1h-2zM230 280h2v1h-2zM7 281h2v1h-2zM231 281h2v1h-2zM5 282h2v1h-2zM232 282h2v1h-2zM5 283h2v1h-2zM232 283h2v1h-2zM3 284h2v1h-2zM233 284h2v1h-2zM3 285h2v1h-2zM234 285h2v1h-2zM234 286h2v1h-2zM235 287h2v1h-2zM235 288h2v1h-2zM236 289h2v1h-2zM237 290h2v1h-2zM237 291h2v1h-2zM238 292h2v1h-2zM239 293h2v1h-2zM239 294h2v1h-2zM240 295h2v1h-2zM241 296h2v1h-2zM241 297h2v1h-2zM242 298h2v1h-2zM243 299h2v1h-2zM243 300h2v1h-2zM244 301h2v1h-2zM245 302h2v1h-2zM245 303h2v1h-2zM246 304h2v1h-2zM247 305h2v1h-2zM247 306h2v1h-2zM248 307h2v1h-2zM249 308h2v1h-2zM249 309h2v1h-2zM250 310h2v1h-2zM251 311h2v1h-2zM251 312h2v1h-2zM252 313h2v1h-2zM253 314h2v1h-2zM253 315h2v1h-2zM254 316h2v1h-2zM254 317h2v1h-2zM255 318h2v1h-2zM256 319h2v1h-2zM256 320h2v1h-2zM257 321h2v1h-2zM257 322h2v1h-2zM258 323h2v1h-2zM259 324h2v1h-2zM259 325h2v1h-2zM260 326h2v1h-2zM260 327h2v1h-2zM261 328h2v1h-2zM262 329h2v1h-2zM262 330h2v1h-2zM263 331h2v1h-2zM263 332h2v1h-2zM264 333h2v1h-2zM265 334h2v1h-2zM265 335h2v1h-2zM266 336h2v1h-2zM267 337h2v1h-2zM268 338h2v1h-2zM268 339h2v1h-2zM269 340h2v1h-2zM270 341h2v1h-2zM270 342h2v1h-2zM271 343h2v1h-2zM272 344h2v1h-2zM273 345h2v1h-2zM274 346h2v1h-2zM275 347h2v1h-2zM276 348h2v1h-2zM277 349h2v1h-2zM278 350h2v1h-2zM279 351h2v1h-2zM280 352h2v1h-2zM281 353h2v1h-2zM282 354h2v1h-2zM283 355h2v1h-2zM283 356h2v1h-2zM284 357h2v1h-2zM285 358h2v1h-2zM286 359h2v1h-2zM286 360h2v1h-2zM287 361h2v1h-2zM288 362h2v1h-2zM288 363h2v1h-2zM289 364h2v1h-2zM290 365h2v1h-2zM290 366h2v1h-2zM291 367h2v1h-2zM292 368h2v1h-2zM292 369h2v1h-2zM293 370h2v1h-2zM294 371h2v1h-2zM294 372h2v1h-2zM295 373h2v1h-2zM296 374h2v1h-2zM296 375h2v1h-2zM297 376h2v1h-2zM297 377h2v1h-2zM298 378h2v1h-2zM298 379h2v1h-2zM299 380h2v1h-2zM299 381h2v1h-2zM300 382h2v1h-2zM300 383h2v1h-2zM301 384h2v1h-2zM301 385h2v1h-2zM302 386h2v1h-2zM302 387h2v1h-2zM303 388h2v1h-2zM303 389h2v1h-2zM304 390h2v1h-2zM305 391h2v1h-2zM305 392h2v1h-2zM306 393h2v1h-2zM307 394h2v1h-2zM307 395h2v1h-2zM308 396h2v1h-2zM309 397h2v1h-2zM309 398h2v1h-2zM310 399h2v1h-2zM311 400h2v1h-2zM311 401h2v1h-2zM312 402h2v1h-2zM313 403h2v1h-2zM313 404h2v1h-2zM314 405h2v1h-2zM315 406h2v1h-2zM315 407h2v1h-2zM316 408h2v1h-2zM317 409h2v1h-2zM318 410h2v1h-2zM318 411h2v1h-2zM319 412h2v1h-2zM320 413h2v1h-2zM320 414h2v1h-2zM321 415h2v1h-2zM322 416h2v1h-2zM322 417h2v1h-2zM323 418h2v1h-2zM324 419h2v1h-2zM325 420h2v1h-2zM326 421h2v1h-2zM327 422h2v1h-2zM328 423h2v1h-2zM329 424h3v1h-3zM330 425h3v1h-3zM332 426h2v1h-2zM333 427h3v1h-3zM334 428h3v1h-3zM336 429h2v1h-2zM337 430h3v1h-3zM338 431h3v1h-3zM340 432h2v1h-2zM341 433h2v1h-2zM342 434h3v1h-3zM343 435h2v1h-2zM345 436h2v1h-2zM345 437h2v1h-2zM347 438h2v1h-2zM347 439h2v1h-2zM349 440h2v1h-2zM349 441h2v1h-2zM351 442h2v1h-2zM351 443h2v1h-2zM353 444h2v1h-2zM353 445h2v1h-2zM355 446h2v1h-2zM355 447h2v1h-2zM357 448h2v1h-2zM357 449h2v1h-2zM359 450h3v1h-3zM359 451h5v1h-5zM362 452h5v1h-5zM364 453h5v1h-5zM367 454h3v1h-3zM369 455h3v1h-3zM370 456h4v1h-4zM372 457h4v1h-4zM374 458h3v1h-3zM376 459h3v1h-3zM377 460h5v1h-5zM379 461h6v1h-6zM517 461h42v1h-42zM382 462h6v1h-6zM461 462h14v1h-14zM501 462h61v1h-61zM385 463h7v1h-7zM453 463h64v1h-64zM559 463h6v1h-6zM388 464h7v1h-7zM446 464h15v1h-15zM475 464h26v1h-26zM562 464h7v1h-7zM392 465h6v1h-6zM437 465h16v1h-16zM565 465h6v1h-6zM395 466h9v1h-9zM422 466h24v1h-24zM569 466h6v1h-6zM398 467h13v1h-13zM418 467h19v1h-19zM571 467h7v1h-7zM404 468h18v1h-18zM575 468h8v1h-8zM411 469h7v1h-7zM578 469h10v1h-10zM583 470h8v1h-8zM588 471h5v1h-5zM591 472h5v1h-5zM593 473h5v1h-5zM596 474h5v1h-5zM598 475h5v1h-5zM601 476h4v1h-4zM603 477h4v1h-4zM605 478h3v1h-3zM607 479h3v1h-3zM608 480h4v1h-4zM610 481h3v1h-3zM612 482h3v1h-3zM796 482h16v1h-16zM613 483h4v1h-4zM792 483h25v1h-25zM615 484h4v1h-4zM788 484h8v1h-8zM812 484h10v1h-10zM617 485h3v1h-3zM783 485h9v1h-9zM817 485h8v1h-8zM619 486h3v1h-3zM778 486h10v1h-10zM822 486h6v1h-6zM620 487h4v1h-4zM773 487h10v1h-10zM825 487h5v1h-5zM622 488h3v1h-3zM768 488h10v1h-10zM828 488h4v1h-4zM624 489h3v1h-3zM764 489h9v1h-9zM830 489h5v1h-5zM625 490h4v1h-4zM760 490h8v1h-8zM832 490h7v1h-7zM627 491h4v1h-4zM756 491h8v1h-8zM835 491h10v1h-10zM629 492h4v1h-4zM747 492h13v1h-13zM839 492h11v1h-11zM631 493h4v1h-4zM738 493h18v1h-18zM845 493h10v1h-10zM633 494h4v1h-4zM732 494h15v1h-15zM850 494h10v1h-10zM635 495h4v1h-4zM728 495h10v1h-10zM855 495h8v1h-8zM637 496h4v1h-4zM722 496h10v1h-10zM860 496h7v1h-7zM639 497h5v1h-5zM718 497h10v1h-10zM863 497h7v1h-7zM641 498h5v1h-5zM713 498h9v1h-9zM867 498h6v1h-6zM644 499h4v1h-4zM709 499h9v1h-9zM870 499h6v1h-6zM646 500h5v1h-5zM704 500h9v1h-9zM873 500h6v1h-6zM648 501h5v1h-5zM700 501h9v1h-9zM876 501h6v1h-6zM651 502h5v1h-5zM696 502h8v1h-8zM879 502h6v1h-6zM653 503h7v1h-7zM692 503h8v1h-8zM882 503h6v1h-6zM656 504h10v1h-10zM688 504h8v1h-8zM885 504h6v1h-6zM660 505h32v1h-32zM888 505h6v1h-6zM666 506h22v1h-22zM891 506h9v1h-9zM894 507h15v1h-15zM900 508h11v1h-11zM909 509h2v1h-2z" fill="#ffaa00"/>
<path d="M155 256h7v1h-7zM149 257h20v1h-20zM143 258h12v1h-12zM162 258h12v1h-12zM138 259h11v1h-11zM169 259h10v1h-10zM134 260h9v1h-9zM174 260h9v1h-9zM130 261h8v1h-8zM179 261h9v1h-9zM127 262h7v1h-7zM183 262h10v1h-10zM125 263h5v1h-5zM188 263h11v1h-11zM122 264h5v1h-5zM193 264h12v1h-12zM120 265h5v1h-5zM199 265h12v1h-12zM118 266h4v1h-4zM205 266h12v1h-12zM116 267h4v1h-4zM211 267h13v1h-13zM114 268h4v1h-4zM217 268h15v1h-15zM111 269h5v1h-5zM224 269h15v1h-15zM109 270h5v1h-5zM232 270h15v1h-15zM107 271h4v1h-4zM239 271h15v1h-15zM106 272h3v1h-3zM247 272h15v1h-15zM105 273h2v1h-2zM254 273h15v1h-15zM104 274h2v1h-2zM262 274h12v1h-12zM103 275h2v1h-2zM269 275h10v1h-10zM102 276h2v1h-2zM274 276h10v1h-10zM101 277h2v1h-2zM279 277h8v1h-8zM100 278h2v1h-2zM284 278h5v1h-5zM99 279h2v1h-2zM287 279h3v1h-3zM97 280h3v1h-3zM289 280h3v1h-3zM95 281h4v1h-4zM290 281h4v1h-4zM94 282h3v1h-3zM292 282h4v1h-4zM92 283h3v1h-3zM294 283h4v1h-4zM90 284h4v1h-4zM296 284h4v1h-4zM88 285h4v1h-4zM298 285h3v1h-3zM87 286h3v1h-3zM300 286h3v1h-3zM85 287h3v1h-3zM301 287h4v1h-4zM83 288h4v1h-4zM303 288h4v1h-4zM81 289h4v1h-4zM305 289h3v1h-3zM80 290h3v1h-3zM307 290h3v1h-3zM78 291h3v1h-3zM308 291h4v1h-4zM76 292h4v1h-4zM310 292h4v1h-4zM75 293h3v1h-3zM312 293h4v1h-4zM74 294h2v1h-2zM314 294h3v1h-3zM73 295h2v1h-2zM316 295h3v1h-3zM72 296h2v1h-2zM317 296h4v1h-4zM71 297h2v1h-2zM319 297h3v1h-3zM70 298h2v1h-2zM321 298h2v1h-2zM69 299h2v1h-2zM322 299h2v1h-2zM67 300h3v1h-3zM323 300h3v1h-3zM66 301h3v1h-3zM324 301h3v1h-3zM65 302h2v1h-2zM326 302h2v1h-2zM64 303h2v1h-2zM327 303h2v1h-2zM63 304h2v1h-2zM328 304h3v1h-3zM62 305h2v1h-2zM329 305h3v1h-3zM61 306h2v1h-2zM331 306h2v1h-2zM60 307h2v1h-2zM332 307h2v1h-2zM59 308h2v1h-2zM333 308h3v1h-3zM58 309h2v1h-2zM334 309h3v1h-3zM57 310h2v1h-2zM336 310h2v1h-2zM56 311h2v1h-2zM337 311h2v1h-2zM55 312h2v1h-2zM338 312h3v1h-3zM54 313h2v1h-2zM339 313h3v1h-3zM53 314h2v1h-2zM341 314h3v1h-3zM52 315h2v1h-2zM342 315h4v1h-4zM51 316h2v1h-2zM344 316h3v1h-3zM50 317h2v1h-2zM346 317h3v1h-3zM49 318h2v1h-2zM347 318h4v1h-4zM48 319h2v1h-2zM349 319h3v1h-3zM47 320h2v1h-2zM351 320h3v1h-3zM46 321h2v1h-2zM352 321h4v1h-4zM45 322h2v1h-2zM354 322h3v1h-3zM44 323h2v1h-2zM356 323h3v1h-3zM43 324h2v1h-2zM357 324h4v1h-4zM42 325h2v1h-2zM359 325h4v1h-4zM41 326h2v1h-2zM361 326h4v1h-4zM40 327h2v1h-2zM363 327h4v1h-4zM39 328h2v1h-2zM365 328h4v1h-4zM38 329h2v1h-2zM367 329h4v1h-4zM37 330h2v1h-2zM369 330h4v1h-4zM36 331h2v1h-2zM371 331h4v1h-4zM35 332h2v1h-2zM373 332h3v1h-3zM34 333h2v1h-2zM375 333h3v1h-3zM33 334h2v1h-2zM376 334h3v1h-3zM32 335h2v1h-2zM378 335h3v1h-3zM31 336h2v1h-2zM379 336h3v1h-3zM30 337h2v1h-2zM381 337h3v1h-3zM29 338h2v1h-2zM382 338h3v1h-3zM28 339h2v1h-2zM384 339h3v1h-3zM27 340h2v1h-2zM385 340h3v1h-3zM26 341h2v1h-2zM387 341h2v1h-2zM25 342h2v1h-2zM388 342h2v1h-2zM24 343h2v1h-2zM389 343h2v1h-2zM22 344h3v1h-3zM390 344h2v1h-2zM20 345h4v1h-4zM391 345h3v1h-3zM19 346h3v1h-3zM392 346h3v1h-3zM17 347h3v1h-3zM394 347h2v1h-2zM15 348h4v1h-4zM395 348h2v1h-2zM13 349h4v1h-4zM396 349h2v1h-2zM12 350h3v1h-3zM397 350h3v1h-3zM11 351h2v1h-2zM398 351h3v1h-3zM9 352h3v1h-3zM400 352h2v1h-2zM8 353h3v1h-3zM401 353h2v1h-2zM6 354h3v1h-3zM402 354h2v1h-2zM5 355h3v1h-3zM403 355h2v1h-2zM4 356h2v1h-2zM404 356h3v1h-3zM3 357h2v1h-2zM405 357h3v1h-3zM3 358h1v1h-1zM407 358h3v1h-3zM408 359h3v1h-3zM410 360h2v1h-2zM411 361h3v1h-3zM412 362h3v1h-3zM414 363h3v1h-3zM415 364h4v1h-4zM417 365h4v1h-4zM419 366h4v1h-4zM421 367h4v1h-4zM423 368h4v1h-4zM425 369h3v1h-3zM427 370h2v1h-2zM428 371h2v1h-2zM429 372h3v1h-3zM430 373h3v1h-3zM432 374h2v1h-2zM433 375h2v1h-2zM434 376h3v1h-3zM435 377h3v1h-3zM437 378h2v1h-2zM438 379h2v1h-2zM439 380h2v1h-2zM440 381h3v1h-3zM441 382h3v1h-3zM443 383h2v1h-2zM444 384h2v1h-2zM445 385h3v1h-3zM446 386h3v1h-3zM448 387h2v1h-2zM449 388h2v1h-2zM450 389h3v1h-3zM451 390h3v1h-3zM453 391h3v1h-3zM454 392h3v1h-3zM456 393h3v1h-3zM457 394h3v1h-3zM459 395h2v1h-2zM460 396h3v1h-3zM461 397h3v1h-3zM463 398h3v1h-3zM464 399h3v1h-3zM466 400h3v1h-3zM467 401h4v1h-4zM469 402h3v1h-3zM471 403h3v1h-3zM472 404h4v1h-4zM474 405h3v1h-3zM476 406h3v1h-3zM477 407h4v1h-4zM479 408h3v1h-3zM481 409h3v1h-3zM482 410h3v1h-3zM484 411h2v1h-2zM485 412h3v1h-3zM486 413h3v1h-3zM488 414h3v1h-3zM489 415h3v1h-3zM491 416h2v1h-2zM492 417h2v1h-2zM493 418h3v1h-3zM494 419h3v1h-3zM496 420h2v1h-2zM497 421h2v1h-2zM498 422h3v1h-3zM499 423h3v1h-3zM501 424h2v1h-2zM502 425h2v1h-2zM503 426h3v1h-3zM504 427h3v1h-3zM506 428h2v1h-2zM507 429h2v1h-2zM508 430h3v1h-3zM509 431h3v1h-3zM511 432h3v1h-3zM512 433h3v1h-3zM514 434h2v1h-2zM515 435h3v1h-3zM516 436h3v1h-3zM518 437h3v1h-3zM519 438h4v1h-4zM521 439h4v1h-4zM523 440h4v1h-4zM525 441h4v1h-4zM527 442h4v1h-4zM529 443h4v1h-4zM531 444h4v1h-4zM533 445h4v1h-4zM535 446h4v1h-4zM537 447h5v1h-5zM539 448h6v1h-6zM542 449h6v1h-6zM545 450h6v1h-6zM548 451h4v1h-4zM551 452h3v1h-3zM552 453h4v1h-4zM554 454h4v1h-4zM556 455h3v1h-3zM558 456h4v1h-4zM559 457h6v1h-6zM562 458h6v1h-6zM565 459h6v1h-6zM568 460h6v1h-6zM571 461h5v1h-5zM574 462h4v1h-4zM576 463h4v1h-4zM578 464h5v1h-5zM580 465h5v1h-5zM583 466h5v1h-5zM585 467h6v1h-6zM588 468h5v1h-5zM591 469h5v1h-5zM593 470h6v1h-6zM596 471h6v1h-6zM599 472h8v1h-8zM602 473h9v1h-9zM607 474h8v1h-8zM611 475h9v1h-9zM615 476h8v1h-8zM755 476h12v1h-12zM620 477h7v1h-7zM732 477h58v1h-58zM623 478h8v1h-8zM725 478h30v1h-30zM767 478h35v1h-35zM627 479h7v1h-7zM717 479h15v1h-15zM790 479h16v1h-16zM631 480h7v1h-7zM709 480h16v1h-16zM802 480h7v1h-7zM634 481h9v1h-9zM704 481h13v1h-13zM806 481h6v1h-6zM638 482h12v1h-12zM698 482h11v1h-11zM809 482h6v1h-6zM643 483h17v1h-17zM694 483h10v1h-10zM812 483h6v1h-6zM650 484h48v1h-48zM815 484h6v1h-6zM660 485h34v1h-34zM818 485h5v1h-5zM821 486h5v1h-5zM823 487h5v1h-5zM826 488h5v1h-5zM828 489h5v1h-5zM831 490h5v1h-5zM833 491h6v1h-6zM836 492h6v1h-6zM839 493h6v1h-6zM842 494h6v1h-6zM845 495h5v1h-5zM848 496h4v1h-4zM850 497h4v1h-4zM852 498h5v1h-5zM854 499h5v1h-5zM857 500h6v1h-6zM859 501h10v1h-10zM863 502h13v1h-13zM869 503h16v1h-16zM876 504h35v1h-35zM885 505h26v1h-26z" fill="#004545"/>
</g>
<g clip-path="url(#plot)" shape-rendering="crispEdges">
<rect x="3" y="613" width="1127" height="3" fill="#228b22" shape-rendering="crispEdges"/>
<rect x="3" y="632" width="1127" height="2" fill="#228b22" shape-rendering="crispEdges"/>
<path d="M3 505h7v1h-7zM3 506h14v1h-14zM10 507h14v1h-14zM17 508h13v1h-13zM24 509h13v1h-13zM30 510h14v1h-14zM37 511h14v1h-14zM44 512h14v1h-14zM51 513h14v1h-14zM58 514h13v1h-13zM65 515h13v1h-13zM71 516h14v1h-14zM78 517h14v1h-14zM85 518h14v1h-14zM92 519h14v1h-14zM99 520h14v1h-14zM106 521h13v1h-13zM113 522h13v1h-13zM119 523h14v1h-14zM126 524h14v1h-14zM133 525h14v1h-14zM140 526h14v1h-14zM147 527h14v1h-14zM154 528h13v1h-13zM161 529h13v1h-13zM167 530h14v1h-14zM174 531h14v1h-14zM181 532h14v1h-14zM188 533h14v1h-14zM195 534h13v1h-13zM202 535h13v1h-13zM208 536h14v1h-14zM215 537h14v1h-14zM222 538h14v1h-14zM229 539h14v1h-14zM236 540h14v1h-14zM243 541h13v1h-13zM250 542h13v1h-13zM256 543h14v1h-14zM263 544h14v1h-14zM270 545h14v1h-14zM277 546h14v1h-14zM284 547h14v1h-14zM291 548h13v1h-13zM298 549h13v1h-13zM304 550h14v1h-14zM311 551h14v1h-14zM318 552h14v1h-14zM325 553h14v1h-14zM332 554h13v1h-13zM339 555h13v1h-13zM345 556h14v1h-14zM352 557h14v1h-14zM359 558h14v1h-14zM366 559h14v1h-14zM373 560h14v1h-14zM380 561h13v1h-13zM387 562h13v1h-13zM393 563h14v1h-14zM400 564h14v1h-14zM407 565h14v1h-14zM414 566h14v1h-14zM421 567h14v1h-14zM428 568h13v1h-13zM435 569h13v1h-13zM441 570h14v1h-14zM448 571h14v1h-14zM455 572h14v1h-14zM462 573h14v1h-14zM469 574h13v1h-13zM476 575h13v1h-13zM482 576h14v1h-14zM489 577h14v1h-14zM496 578h14v1h-14zM503 579h14v1h-14zM510 580h14v1h-14zM517 581h13v1h-13zM524 582h13v1h-13zM530 583h14v1h-14zM537 584h14v1h-14zM544 585h14v1h-14zM551 586h14v1h-14zM558 587h13v1h-13zM565 588h13v1h-13zM571 589h14v1h-14zM578 590h14v1h-14zM585 591h14v1h-14zM592 592h14v1h-14zM599 593h14v1h-14zM606 594h13v1h-13zM613 595h13v1h-13zM619 596h14v1h-14zM626 597h14v1h-14zM633 598h14v1h-14zM640 599h14v1h-14zM647 600h14v1h-14zM654 601h13v1h-13zM661 602h13v1h-13zM667 603h14v1h-14zM674 604h14v1h-14zM681 605h14v1h-14zM688 606h14v1h-14zM695 607h13v1h-13zM702 608h13v1h-13zM708 609h14v1h-14zM715 610h14v1h-14zM722 611h14v1h-14zM729 612h14v1h-14zM736 613h14v1h-14zM743 614h13v1h-13zM750 615h13v1h-13zM756 616h14v1h-14zM763 617h14v1h-14zM770 618h14v1h-14zM777 619h14v1h-14zM784 620h14v1h-14zM791 621h13v1h-13zM798 622h13v1h-13zM804 623h14v1h-14zM811 624h14v1h-14zM818 625h14v1h-14zM825 626h14v1h-14zM832 627h13v1h-13zM839 628h13v1h-13zM845 629h14v1h-14zM852 630h14v1h-14zM859 631h14v1h-14zM866 632h14v1h-14zM873 633h14v1h-14zM880 634h13v1h-13zM887 635h13v1h-13zM893 636h14v1h-14zM900 637h14v1h-14zM907 638h14v1h-14zM914 639h14v1h-14zM921 640h14v1h-14zM928 641h13v1h-13zM935 642h13v1h-13zM941 643h14v1h-14zM948 644h14v1h-14zM955 645h14v1h-14zM962 646h14v1h-14zM969 647h13v1h-13zM976 648h13v1h-13zM982 649h14v1h-14zM989 650h14v1h-14zM996 651h7v1h-7z" fill="#228b22"/>
<rect x="798.5" y="459.5" width="148" height="26" fill="none" stroke="#1c861c" stroke-width="1" shape-rendering="crispEdges"/>
<rect x="799" y="224" width="156" height="1" fill="#000" shape-rendering="crispEdges"/>
<text x="920.0" y="221.4" font-size="12" fill="#000" textLength="33.0" lengthAdjust="spacingAndGlyphs">261.8</text>
<rect x="799" y="370" width="156" height="1" fill="#000" shape-rendering="crispEdges"/>
<text x="920.0" y="367.4" font-size="12" fill="#000" textLength="33.0" lengthAdjust="spacingAndGlyphs">161.8</text>
<rect x="799" y="460" width="156" height="1" fill="#000" shape-rendering="crispEdges"/>
<text x="920.0" y="457.4" font-size="12" fill="#000" textLength="33.0" lengthAdjust="spacingAndGlyphs">100.0</text>
<rect x="799" y="477" width="156" height="1" fill="#000" shape-rendering="crispEdges"/>
<text x="928.4" y="474.4" font-size="12" fill="#000" textLength="24.6" lengthAdjust="spacingAndGlyphs">88.2</text>
<rect x="799" y="494" width="156" height="1" fill="#000" shape-rendering="crispEdges"/>
<text x="928.4" y="491.4" font-size="12" fill="#000" textLength="24.6" lengthAdjust="spacingAndGlyphs">76.4</text>
<rect x="799" y="515" width="156" height="1" fill="#000" shape-rendering="crispEdges"/>
<text x="928.4" y="512.4" font-size="12" fill="#000" textLength="24.6" lengthAdjust="spacingAndGlyphs">61.8</text>
<rect x="799" y="532" width="156" height="1" fill="#000" shape-rendering="crispEdges"/>
<text x="928.4" y="529.4" font-size="12" fill="#000" textLength="24.6" lengthAdjust="spacingAndGlyphs">50.0</text>
<rect x="799" y="549" width="156" height="1" fill="#000" shape-rendering="crispEdges"/>
<text x="928.4" y="546.4" font-size="12" fill="#000" textLength="24.6" lengthAdjust="spacingAndGlyphs">38.2</text>
<rect x="799" y="571" width="156" height="1" fill="#000" shape-rendering="crispEdges"/>
<text x="928.4" y="568.4" font-size="12" fill="#000" textLength="24.6" lengthAdjust="spacingAndGlyphs">23.6</text>
<rect x="799" y="605" width="156" height="1" fill="#000" shape-rendering="crispEdges"/>
<text x="934.2" y="602.4" font-size="12" fill="#000" textLength="18.8" lengthAdjust="spacingAndGlyphs">0.0</text>
<rect x="799" y="644" width="156" height="1" fill="#000" shape-rendering="crispEdges"/>
<path d="M454 375h3v1h-3zM454 376h8v1h-8zM457 377h10v1h-10zM462 378h10v1h-10zM467 379h10v1h-10zM472 380h10v1h-10zM477 381h11v1h-11zM482 382h11v1h-11zM488 383h10v1h-10zM493 384h10v1h-10zM498 385h10v1h-10zM503 386h10v1h-10zM508 387h11v1h-11zM513 388h11v1h-11zM519 389h10v1h-10zM524 390h10v1h-10zM529 391h10v1h-10zM534 392h10v1h-10zM539 393h11v1h-11zM544 394h11v1h-11zM550 395h10v1h-10zM555 396h10v1h-10zM560 397h10v1h-10zM565 398h10v1h-10zM570 399h11v1h-11zM575 400h11v1h-11zM581 401h10v1h-10zM586 402h10v1h-10zM591 403h10v1h-10zM596 404h11v1h-11zM601 405h11v1h-11zM607 406h10v1h-10zM612 407h10v1h-10zM617 408h10v1h-10zM622 409h10v1h-10zM627 410h11v1h-11zM632 411h11v1h-11zM638 412h10v1h-10zM643 413h10v1h-10zM648 414h10v1h-10zM653 415h10v1h-10zM658 416h11v1h-11zM663 417h11v1h-11zM669 418h10v1h-10zM674 419h10v1h-10zM679 420h10v1h-10zM684 421h10v1h-10zM689 422h11v1h-11zM694 423h11v1h-11zM700 424h10v1h-10zM705 425h10v1h-10zM710 426h10v1h-10zM715 427h10v1h-10zM720 428h11v1h-11zM725 429h11v1h-11zM731 430h10v1h-10zM736 431h10v1h-10zM741 432h10v1h-10zM746 433h10v1h-10zM751 434h11v1h-11zM756 435h11v1h-11zM762 436h10v1h-10zM767 437h10v1h-10zM772 438h10v1h-10zM777 439h10v1h-10zM782 440h11v1h-11zM787 441h11v1h-11zM793 442h10v1h-10zM798 443h10v1h-10zM803 444h10v1h-10zM808 445h10v1h-10zM813 446h11v1h-11zM818 447h11v1h-11zM824 448h10v1h-10zM829 449h10v1h-10zM834 450h10v1h-10zM839 451h11v1h-11zM844 452h11v1h-11zM850 453h10v1h-10zM855 454h10v1h-10zM860 455h10v1h-10zM865 456h10v1h-10zM870 457h11v1h-11zM875 458h11v1h-11zM881 459h10v1h-10zM886 460h10v1h-10zM891 461h10v1h-10zM896 462h10v1h-10zM901 463h11v1h-11zM906 464h11v1h-11zM912 465h10v1h-10zM917 466h10v1h-10zM922 467h10v1h-10zM927 468h10v1h-10zM932 469h11v1h-11zM937 470h11v1h-11zM943 471h10v1h-10zM948 472h10v1h-10zM953 473h10v1h-10zM958 474h10v1h-10zM963 475h8v1h-8zM968 476h3v1h-3z" fill="#000"/>
<path d="M932 468h4v1h-4zM928 469h8v1h-8zM924 470h8v1h-8zM920 471h8v1h-8zM916 472h8v1h-8zM912 473h8v1h-8zM908 474h8v1h-8zM904 475h8v1h-8zM900 476h8v1h-8zM897 477h7v1h-7zM893 478h7v1h-7zM889 479h8v1h-8zM885 480h8v1h-8zM881 481h8v1h-8zM877 482h8v1h-8zM873 483h8v1h-8zM869 484h8v1h-8zM865 485h8v1h-8zM861 486h8v1h-8zM857 487h8v1h-8zM853 488h8v1h-8zM849 489h8v1h-8zM845 490h8v1h-8zM841 491h8v1h-8zM837 492h8v1h-8zM833 493h8v1h-8zM829 494h8v1h-8zM825 495h8v1h-8zM821 496h8v1h-8zM818 497h7v1h-7zM814 498h7v1h-7zM810 499h8v1h-8zM806 500h8v1h-8zM802 501h8v1h-8zM798 502h8v1h-8zM794 503h8v1h-8zM790 504h8v1h-8zM786 505h8v1h-8zM782 506h8v1h-8zM778 507h8v1h-8zM774 508h8v1h-8zM770 509h8v1h-8zM766 510h8v1h-8zM762 511h8v1h-8zM758 512h8v1h-8zM754 513h8v1h-8zM750 514h8v1h-8zM746 515h8v1h-8zM742 516h8v1h-8zM739 517h7v1h-7zM735 518h7v1h-7zM731 519h8v1h-8zM727 520h8v1h-8zM723 521h8v1h-8zM719 522h8v1h-8zM715 523h8v1h-8zM711 524h8v1h-8zM707 525h8v1h-8zM703 526h8v1h-8zM699 527h8v1h-8zM695 528h8v1h-8zM691 529h8v1h-8zM687 530h8v1h-8zM683 531h8v1h-8zM679 532h8v1h-8zM675 533h8v1h-8zM671 534h8v1h-8zM667 535h8v1h-8zM663 536h8v1h-8zM660 537h7v1h-7zM656 538h7v1h-7zM652 539h8v1h-8zM648 540h8v1h-8zM644 541h8v1h-8zM640 542h8v1h-8zM636 543h8v1h-8zM632 544h8v1h-8zM628 545h8v1h-8zM624 546h8v1h-8zM622 547h6v1h-6zM622 548h2v1h-2z" fill="#000"/>
<path d="M916 480h2v1h-2zM917 481h2v1h-2zM917 482h2v1h-2zM917 483h2v1h-2zM918 484h2v1h-2zM918 485h2v1h-2zM918 486h2v1h-2zM918 487h2v1h-2zM919 488h2v1h-2zM919 489h2v1h-2zM919 490h2v1h-2zM919 491h2v1h-2zM920 492h2v1h-2zM920 493h2v1h-2zM920 494h2v1h-2zM921 495h2v1h-2zM921 496h2v1h-2zM921 497h2v1h-2zM921 498h2v1h-2zM922 499h2v1h-2zM922 500h2v1h-2zM922 501h2v1h-2zM922 502h2v1h-2zM923 503h2v1h-2zM923 504h2v1h-2zM923 505h2v1h-2zM924 506h2v1h-2zM924 507h2v1h-2zM924 508h2v1h-2zM924 509h2v1h-2zM925 510h2v1h-2zM925 511h2v1h-2zM925 512h2v1h-2zM925 513h2v1h-2zM926 514h2v1h-2zM926 515h2v1h-2zM926 516h2v1h-2zM927 517h2v1h-2zM927 518h2v1h-2zM927 519h2v1h-2zM927 520h2v1h-2zM928 521h2v1h-2zM928 522h2v1h-2zM928 523h2v1h-2zM928 524h2v1h-2zM929 525h2v1h-2zM929 526h2v1h-2zM929 527h2v1h-2zM930 528h2v1h-2zM930 529h2v1h-2zM930 530h2v1h-2zM930 531h2v1h-2zM931 532h2v1h-2zM931 533h2v1h-2zM931 534h2v1h-2zM931 535h2v1h-2zM932 536h2v1h-2zM932 537h2v1h-2zM932 538h2v1h-2zM932 539h2v1h-2zM933 540h2v1h-2zM933 541h2v1h-2zM933 542h2v1h-2zM934 543h2v1h-2zM934 544h2v1h-2zM934 545h2v1h-2zM934 546h2v1h-2zM935 547h2v1h-2zM935 548h2v1h-2zM935 549h2v1h-2zM935 550h2v1h-2zM936 551h2v1h-2zM936 552h2v1h-2zM936 553h2v1h-2zM937 554h2v1h-2zM937 555h2v1h-2zM937 556h2v1h-2zM937 557h2v1h-2zM938 558h2v1h-2zM938 559h2v1h-2zM938 560h2v1h-2zM938 561h2v1h-2z" fill="#000"/>
<polygon points="936.2,558.3 945.7,559.8 945.4,562.2 943,572 941.4,572" fill="#000" shape-rendering="geometricPrecision"/>
</g>
<g shape-rendering="crispEdges">
<rect x="2" y="2" width="1129" height="1" fill="#3b3e4b"/>
<rect x="2" y="2" width="1" height="650" fill="#3b3e4b"/>
<rect x="1130" y="2" width="1" height="650" fill="#3b3e4b"/>
<rect x="2" y="651" width="1129" height="1" fill="#3b3e4b"/>
<rect x="1131" y="11" width="4" height="1" fill="#3b3e4b"/>
<rect x="1131" y="43" width="4" height="1" fill="#3b3e4b"/>
<rect x="1131" y="75" width="4" height="1" fill="#3b3e4b"/>
<rect x="1131" y="107" width="4" height="1" fill="#3b3e4b"/>
<rect x="1131" y="139" width="4" height="1" fill="#3b3e4b"/>
<rect x="1131" y="171" width="4" height="1" fill="#3b3e4b"/>
<rect x="1131" y="203" width="4" height="1" fill="#3b3e4b"/>
<rect x="1131" y="235" width="4" height="1" fill="#3b3e4b"/>
<rect x="1131" y="267" width="4" height="1" fill="#3b3e4b"/>
<rect x="1131" y="299" width="4" height="1" fill="#3b3e4b"/>
<rect x="1131" y="331" width="4" height="1" fill="#3b3e4b"/>
<rect x="1131" y="363" width="4" height="1" fill="#3b3e4b"/>
<rect x="1131" y="395" width="4" height="1" fill="#3b3e4b"/>
<rect x="1131" y="427" width="4" height="1" fill="#3b3e4b"/>
<rect x="1131" y="459" width="4" height="1" fill="#3b3e4b"/>
<rect x="1131" y="491" width="4" height="1" fill="#3b3e4b"/>
<rect x="1131" y="523" width="4" height="1" fill="#3b3e4b"/>
<rect x="1131" y="555" width="4" height="1" fill="#3b3e4b"/>
<rect x="1131" y="587" width="4" height="1" fill="#3b3e4b"/>
<rect x="1131" y="619" width="4" height="1" fill="#3b3e4b"/>
<rect x="2" y="652" width="1" height="3" fill="#3b3e4b"/>
<rect x="130" y="652" width="1" height="3" fill="#3b3e4b"/>
<rect x="258" y="652" width="1" height="3" fill="#3b3e4b"/>
<rect x="386" y="652" width="1" height="3" fill="#3b3e4b"/>
<rect x="514" y="652" width="1" height="3" fill="#3b3e4b"/>
<rect x="642" y="652" width="1" height="3" fill="#3b3e4b"/>
<rect x="770" y="652" width="1" height="3" fill="#3b3e4b"/>
<rect x="898" y="652" width="1" height="3" fill="#3b3e4b"/>
</g>
<g font-size="12" fill="#2f3340" letter-spacing="0.45">
<text x="1136.5" y="15.5">115.900</text>
<text x="1136.5" y="47.5">115.020</text>
<text x="1136.5" y="79.5">114.140</text>
<text x="1136.5" y="111.5">113.260</text>
<text x="1136.5" y="143.5">112.380</text>
<text x="1136.5" y="175.5">111.500</text>
<text x="1136.5" y="207.5">110.620</text>
<text x="1136.5" y="239.5">109.740</text>
<text x="1136.5" y="271.5">108.860</text>
<text x="1136.5" y="303.5">107.980</text>
<text x="1136.5" y="335.5">107.100</text>
<text x="1136.5" y="367.5">106.220</text>
<text x="1136.5" y="399.5">105.340</text>
<text x="1136.5" y="431.5">104.460</text>
<text x="1136.5" y="463.5">103.580</text>
<text x="1136.5" y="495.5">102.700</text>
<text x="1136.5" y="527.5">101.820</text>
<text x="1136.5" y="559.5">100.940</text>
<text x="1136.5" y="591.5">100.060</text>
<text x="1136.5" y="623.5">99.180</text>
</g>
<g font-size="12" fill="#2f3340">
<text x="2.3" y="666.7" textLength="69.9" lengthAdjust="spacing">28 Sep 2022</text>
<text x="130.3" y="666.7" textLength="70.2" lengthAdjust="spacing">11 Nov 2022</text>
<text x="258.3" y="666.7" textLength="70.2" lengthAdjust="spacing">28 Dec 2022</text>
<text x="386.3" y="666.7" textLength="69.2" lengthAdjust="spacing">13 Feb 2023</text>
<text x="514.3" y="666.7" textLength="68.9" lengthAdjust="spacing">29 Mar 2023</text>
<text x="642.3" y="666.7" textLength="70.9" lengthAdjust="spacing">12 May 2023</text>
<text x="770.3" y="666.7" textLength="69.2" lengthAdjust="spacing">27 Jun 2023</text>
<text x="898.3" y="666.7" textLength="71.9" lengthAdjust="spacing">10 Aug 2023</text>
</g>
<rect x="1133" y="471" width="54" height="14" fill="#0bb540" shape-rendering="crispEdges"/>
<text x="1137.3" y="482.5" font-size="12" fill="#ffffff" letter-spacing="0.33">103.045</text>
<text x="7.3" y="15.7" font-size="12" fill="#2f3340" textLength="127" lengthAdjust="spacingAndGlyphs" style="white-space:pre">UsDollar, Daily:  UsDollar</text>
</svg></body></html>
